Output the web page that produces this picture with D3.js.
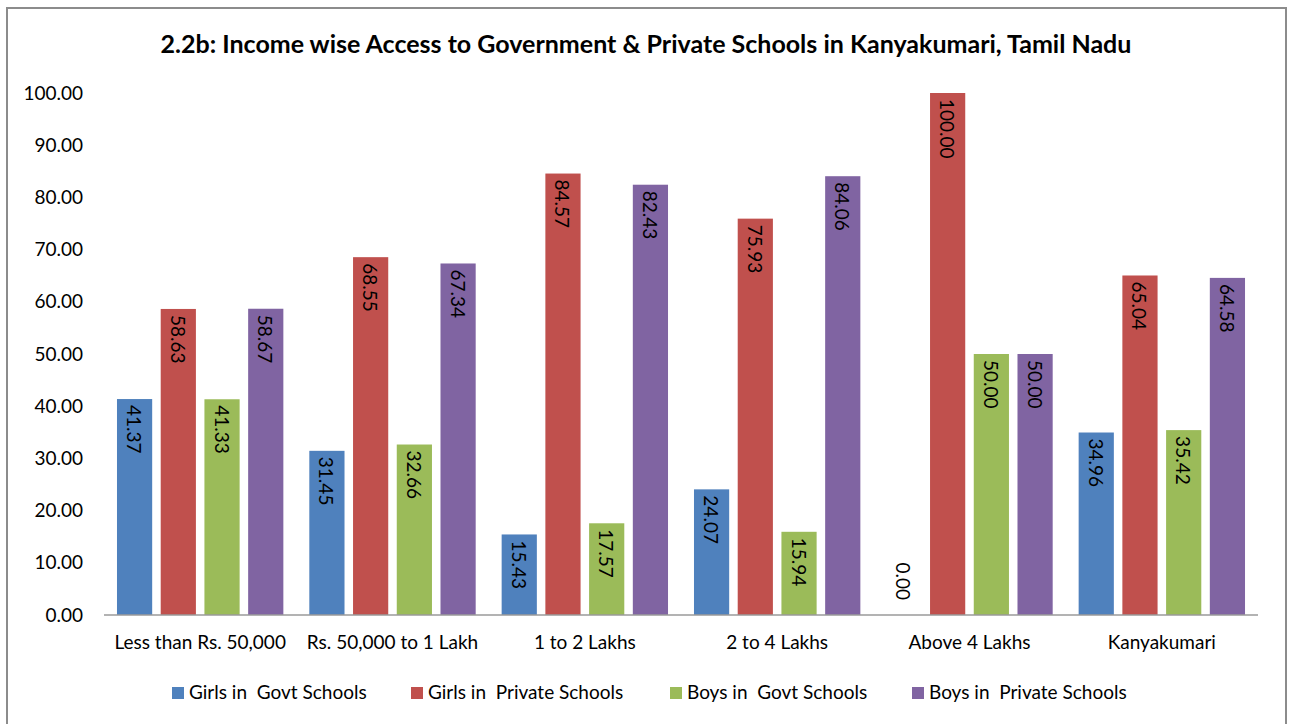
<!DOCTYPE html>
<html>
<head>
<meta charset="utf-8">
<script src="https://cdn.jsdelivr.net/npm/d3@7"></script>
<style>
  html, body { margin: 0; padding: 0; background: #fff; }
  svg text { font-family: Lato, "Open Sans", sans-serif; fill: #000; }
</style>
</head>
<body>
<svg id="chart" width="1290" height="724"></svg>
<script>
// Income groups along the x axis
const categories = ["Less than Rs. 50,000", "Rs. 50,000 to 1 Lakh", "1 to 2 Lakhs", "2 to 4 Lakhs", "Above 4 Lakhs", "Kanyakumari"];
// Series names as shown in the legend
const seriesNames = ["Girls in  Govt Schools", "Girls in  Private Schools", "Boys in  Govt Schools", "Boys in  Private Schools"];
// Percentages per series, one value per income group
const girlsGovt    = [41.37, 31.45, 15.43, 24.07, 0.00, 34.96];
const girlsPrivate = [58.63, 68.55, 84.57, 75.93, 100.00, 65.04];
const boysGovt     = [41.33, 32.66, 17.57, 15.94, 50.00, 35.42];
const boysPrivate  = [58.67, 67.34, 82.43, 84.06, 50.00, 64.58];
const yTicks = [0, 10, 20, 30, 40, 50, 60, 70, 80, 90, 100];
const colors = ["#4F81BD", "#C0504D", "#9BBB59", "#8064A2"];

const seriesValues = [girlsGovt, girlsPrivate, boysGovt, boysPrivate];

const svg = d3.select("#chart");

// outer chart frame
svg.append("rect")
  .attr("x", 7).attr("y", 8).attr("width", 1279).attr("height", 730)
  .attr("fill", "#fff").attr("stroke", "#8c8c8c").attr("stroke-width", 2);

// title
svg.append("text")
  .attr("x", 646).attr("y", 53)
  .attr("text-anchor", "middle")
  .style("font-size", "25px").style("font-weight", "bold")
  .text("2.2b: Income wise Access to Government & Private Schools in Kanyakumari, Tamil Nadu");

const plot = { left: 104, right: 1258, top: 93, bottom: 615 };

const x0 = d3.scaleBand()
  .domain(categories)
  .range([plot.left, plot.right])
  .paddingInner(0.135).paddingOuter(0.0675);

const x1 = d3.scaleBand()
  .domain(d3.range(seriesNames.length))
  .range([0, x0.bandwidth()])
  .paddingInner(0.195).paddingOuter(0);

const y = d3.scaleLinear().domain([0, 100]).range([plot.bottom, plot.top]);

// y axis labels (no axis line, no gridlines)
const yAxis = d3.axisLeft(y).tickValues(yTicks).tickFormat(d3.format(".2f")).tickSize(0).tickPadding(0);
const yg = svg.append("g").attr("transform", `translate(83,0)`).call(yAxis);
yg.select(".domain").remove();
yg.selectAll("text").style("font-size", "19px").style("font-family", "Lato, sans-serif").attr("fill", "#000");

// bars
const groups = svg.append("g").selectAll("g")
  .data(categories)
  .join("g")
  .attr("transform", d => `translate(${x0(d)},0)`);

groups.selectAll("rect")
  .data((d, i) => seriesValues.map((vals, s) => ({ s, v: vals[i] })))
  .join("rect")
  .attr("x", d => x1(d.s))
  .attr("width", x1.bandwidth())
  .attr("y", d => y(d.v))
  .attr("height", d => y(0) - y(d.v))
  .attr("fill", d => colors[d.s]);

// value labels, rotated to read downward along each bar
groups.selectAll("text.val")
  .data((d, i) => seriesValues.map((vals, s) => ({ s, v: vals[i] })))
  .join("text")
  .attr("class", "val")
  .each(function (d) {
    const cx = x1(d.s) + x1.bandwidth() / 2;
    const small = (y(0) - y(d.v)) < 55;
    const ty = small ? y(d.v) - 15 : y(d.v) + 6;
    d3.select(this)
      .attr("transform", `translate(${cx},${ty}) rotate(90)`)
      .attr("text-anchor", small ? "end" : "start")
      .attr("dominant-baseline", "central");
  })
  .style("font-size", "19px")
  .text(d => d3.format(".2f")(d.v));

// x axis line
svg.append("line")
  .attr("x1", plot.left).attr("x2", plot.right)
  .attr("y1", y(0)).attr("y2", y(0))
  .attr("stroke", "#9a9a9a").attr("stroke-width", 1.5);

// category labels
svg.append("g").selectAll("text")
  .data(categories)
  .join("text")
  .attr("x", d => x0(d) + x0.bandwidth() / 2)
  .attr("y", 649)
  .attr("text-anchor", "middle")
  .style("font-size", "19px")
  .text(d => d);

// legend
const legendX = [172, 411, 670, 912];
const legend = svg.append("g").selectAll("g")
  .data(seriesNames)
  .join("g")
  .attr("transform", (d, i) => `translate(${legendX[i]},687)`);
legend.append("rect").attr("width", 12).attr("height", 12).attr("fill", (d, i) => colors[i]);
legend.append("text")
  .attr("x", 17).attr("y", 12)
  .attr("xml:space", "preserve")
  .style("white-space", "pre")
  .style("font-size", "19px")
  .text(d => d);
</script>
</body>
</html>
